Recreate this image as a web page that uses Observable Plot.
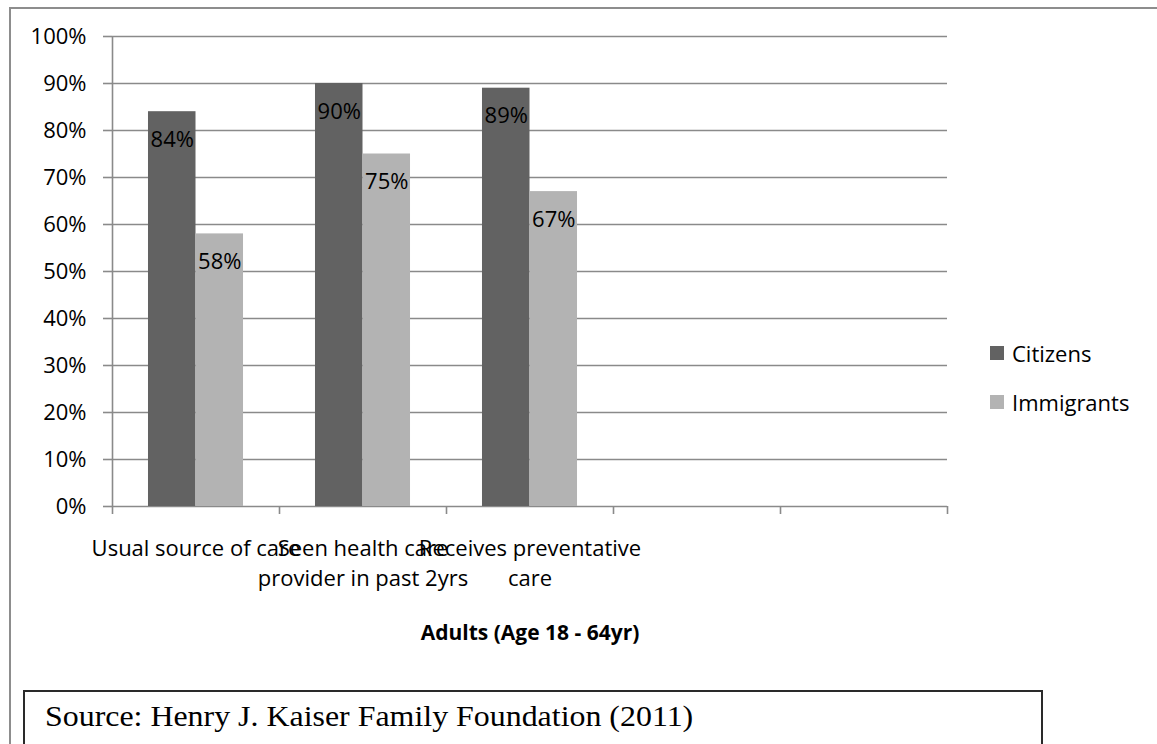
<!DOCTYPE html>
<html>
<head>
<meta charset="utf-8">
<script src="https://cdn.jsdelivr.net/npm/d3@7"></script>
<script src="https://cdn.jsdelivr.net/npm/@observablehq/plot@0.6"></script>
<style>
  html, body { margin: 0; padding: 0; background: #fff; width: 1157px; height: 744px; overflow: hidden; }
  #frame { position: absolute; left: 9px; top: 7px; width: 1200px; height: 800px; border: 2px solid #8d8d8d; box-sizing: border-box; }
  #chart { position: absolute; left: 0; top: 0; }
  #legend { position: absolute; left: 990px; top: 0; font-family: "Open Sans"; font-size: 22px; color: #000; }
  .item { position: absolute; left: 0; white-space: nowrap; display: flex; align-items: center; height: 30px; }
  .sw { width: 14px; height: 14px; margin-right: 8px; }
  #source { position: absolute; left: 23px; top: 690px; width: 1020px; height: 80px; border: 2px solid #2a2a2a; box-sizing: border-box; background: #fff; }
  #source span { position: absolute; left: 20px; top: 8px; font-family: "Liberation Serif", "Times New Roman", serif; font-size: 29px; color: #000; transform: scaleX(1.1); transform-origin: left top; white-space: nowrap; }
</style>
</head>
<body>
<div id="frame"></div>
<div id="chart"></div>
<div id="legend"></div>
<div id="source"><span></span></div>
<script>
const categories = ["Usual source of care", "Seen health care provider in past 2yrs", "Receives preventative care", "", ""];
const categoryLabels = ["Usual source of care", "Seen health care\nprovider in past 2yrs", "Receives preventative\ncare", "", ""];
const series = ["Citizens", "Immigrants"];
const citizens = [0.84, 0.90, 0.89, null, null];
const immigrants = [0.58, 0.75, 0.67, null, null];
const colors = ["#626262", "#b3b3b3"];
const yTicks = [0, 0.1, 0.2, 0.3, 0.4, 0.5, 0.6, 0.7, 0.8, 0.9, 1.0];
const xTitle = "Adults (Age 18 - 64yr)";
const sourceText = "Source: Henry J. Kaiser Family Foundation (2011)";

// layout: fraction of each category slot occupied by the bar group
const groupFrac = 0.569;
const barFrac = groupFrac / series.length;
const offset = (1 - groupFrac) / 2;

const valuesBySeries = [citizens, immigrants];
const rows = [];
categories.forEach((c, i) => {
  series.forEach((s, j) => {
    const v = valuesBySeries[j][i];
    if (v == null) return;
    const x1 = i + offset + j * barFrac;
    rows.push({category: c, series: s, value: v, x1, x2: x1 + barFrac});
  });
});
const labelRows = categoryLabels.map((l, i) => ({label: l, xc: i + 0.5}));
const slotEdges = d3.range(categories.length + 1);

const grid = "#8a8a8a";
const chart = Plot.plot({
  width: 1157,
  height: 680,
  marginLeft: 112,
  marginRight: 210,
  marginTop: 36,
  marginBottom: 174,
  style: {fontFamily: "Open Sans", fontSize: "22px", background: "transparent", color: "#000", overflow: "visible"},
  x: {type: "linear", domain: [0, categories.length], axis: null},
  y: {domain: [0, 1], axis: null},
  color: {domain: series, range: colors},
  marks: [
    Plot.ruleY(yTicks, {stroke: grid, strokeWidth: 1.6}),
    Plot.rectY(rows, {x1: "x1", x2: "x2", y1: 0, y2: "value", fill: "series"}),
    Plot.ruleX([0], {stroke: grid, strokeWidth: 1.6}),
    Plot.axisY(yTicks, {tickSize: 9, tickPadding: 17, tickFormat: d3.format(".0%"), stroke: grid, strokeWidth: 1.6, fill: "#000", fontSize: 22, label: null}),
    Plot.axisX(slotEdges, {tickSize: 8, tickFormat: () => "", stroke: grid, strokeWidth: 1.6, label: null}),
    Plot.text(rows, {x: d => (d.x1 + d.x2) / 2, y: "value", text: d => d3.format(".0%")(d.value), dy: 28, fontSize: 22, fill: "#000"}),
    Plot.text(labelRows, {x: "xc", y: 0, text: "label", dy: 28, lineAnchor: "top", lineHeight: 1.36, fontSize: 22, fill: "#000", textAnchor: "middle"}),
    Plot.text([xTitle], {frameAnchor: "bottom", dy: 119, lineAnchor: "top", fontSize: 21, fontWeight: "bold", fill: "#000"})
  ]
});
document.getElementById("chart").appendChild(chart);

const legend = document.getElementById("legend");
const legendCenters = [353, 402];
series.forEach((s, j) => {
  const item = document.createElement("div");
  item.className = "item";
  item.style.top = (legendCenters[j] - 15) + "px";
  const sw = document.createElement("div");
  sw.className = "sw";
  sw.style.background = colors[j];
  const t = document.createElement("span");
  t.textContent = s;
  item.appendChild(sw);
  item.appendChild(t);
  legend.appendChild(item);
});
document.querySelector("#source span").textContent = sourceText;
</script>
</body>
</html>
